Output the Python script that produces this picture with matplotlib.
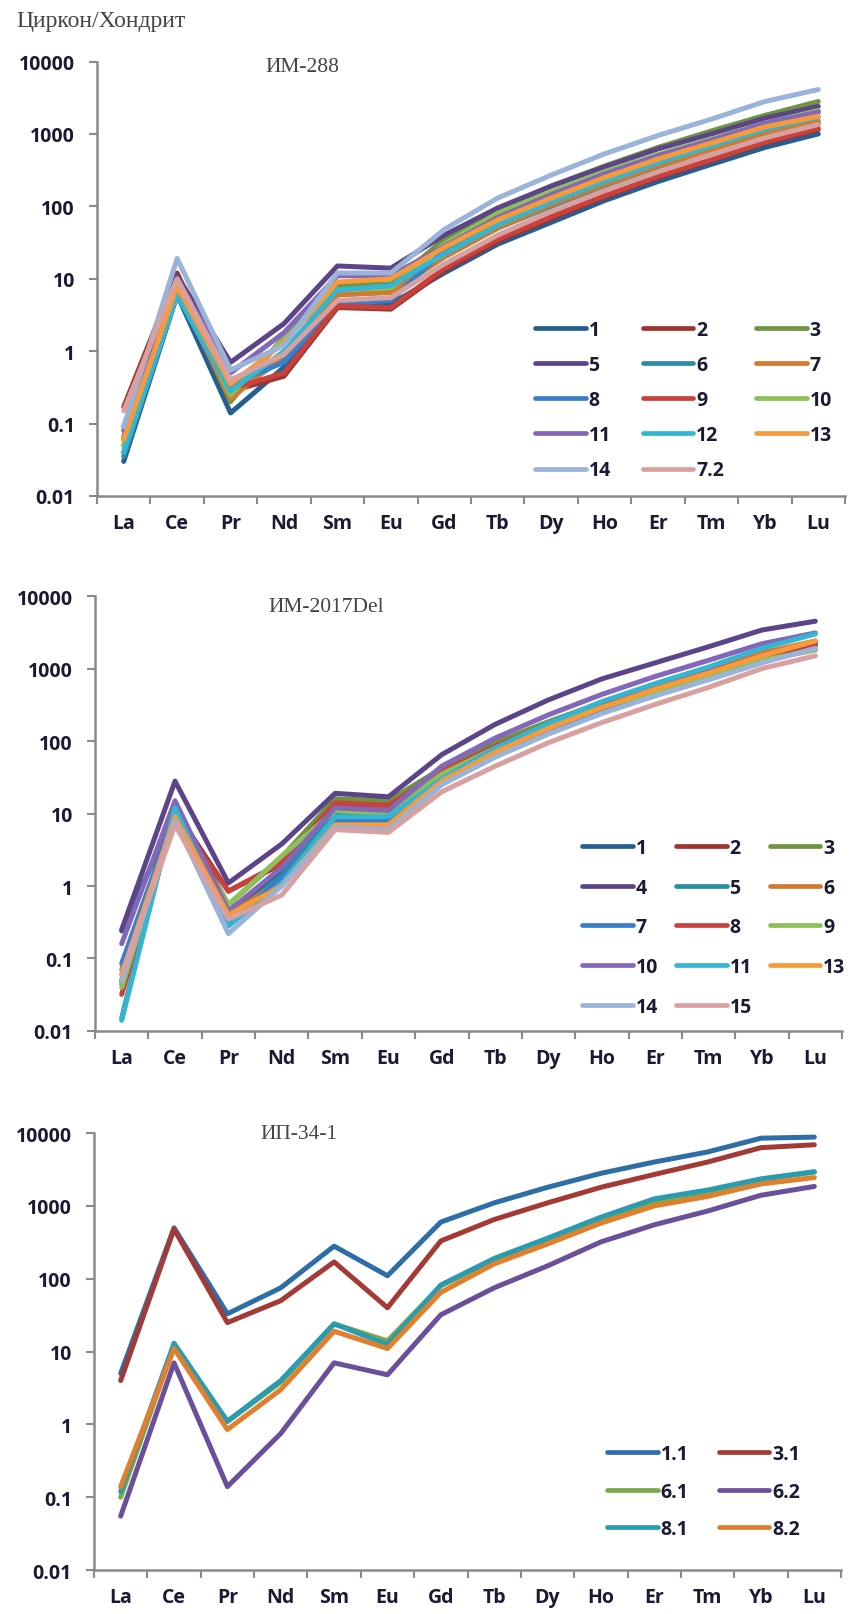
import matplotlib
matplotlib.use("Agg")
import matplotlib.pyplot as plt
import numpy as np

# REE spectra of zircon normalised to chondrite, three samples
elements = ["La", "Ce", "Pr", "Nd", "Sm", "Eu", "Gd", "Tb", "Dy", "Ho", "Er", "Tm", "Yb", "Lu"]
y_ticks = [0.01, 0.1, 1, 10, 100, 1000, 10000]
y_labels = ["0.01", "0.1", "1", "10", "100", "1000", "10000"]

# ---- ИМ-288
im288_names = ["1", "2", "3", "5", "6", "7", "8", "9", "10", "11", "12", "13", "14", "7.2"]
im288_colors = ["#255e91", "#9e3430", "#6f9340", "#5b4588", "#2a8fa5", "#d07a2e", "#3a7dc8",
                "#c9413c", "#8fc057", "#8367b8", "#34b5d2", "#f79a3c", "#9ab3d8", "#d9a0a0"]
im288_s1 = [0.03, 6, 0.14, 0.6, 4, 4.5, 12, 30, 60, 120, 220, 380, 650, 1000]
im288_s2 = [0.17, 12, 0.28, 0.45, 4, 3.8, 13, 33, 68, 135, 250, 430, 750, 1150]
im288_s3 = [0.05, 8, 0.2, 1.6, 8, 8.5, 35, 90, 190, 360, 650, 1100, 1800, 2800]
im288_s5 = [0.09, 11, 0.7, 2.4, 15, 14, 40, 95, 190, 350, 620, 1000, 1650, 2400]
im288_s6 = [0.035, 6, 0.25, 0.8, 6, 6.5, 20, 50, 100, 190, 350, 580, 950, 1400]
im288_s7 = [0.06, 7, 0.22, 0.9, 6, 6.5, 20, 50, 105, 200, 360, 600, 1000, 1500]
im288_s8 = [0.04, 6.5, 0.35, 0.7, 4.5, 5, 25, 65, 135, 260, 480, 800, 1350, 2050]
im288_s9 = [0.065, 9, 0.3, 0.5, 4.2, 4, 14, 35, 72, 140, 260, 440, 770, 1200]
im288_s10 = [0.05, 8, 0.25, 1.5, 7, 7.5, 30, 80, 160, 300, 520, 850, 1400, 2100]
im288_s11 = [0.08, 10, 0.5, 1.8, 11, 11, 28, 70, 145, 280, 500, 820, 1400, 2000]
im288_s12 = [0.04, 6, 0.28, 1.0, 7, 8, 22, 55, 115, 220, 400, 680, 1150, 1700]
im288_s13 = [0.06, 8, 0.35, 1.3, 9, 10, 27, 65, 130, 250, 450, 750, 1250, 1750]
im288_s14 = [0.09, 19, 0.55, 1.2, 12, 12, 48, 130, 270, 530, 950, 1600, 2800, 4100]
im288_s72 = [0.15, 10, 0.4, 0.9, 5, 5.5, 16, 40, 85, 165, 300, 520, 880, 1350]
im288_data = [im288_s1, im288_s2, im288_s3, im288_s5, im288_s6, im288_s7, im288_s8,
              im288_s9, im288_s10, im288_s11, im288_s12, im288_s13, im288_s14, im288_s72]

# ---- ИМ-2017Del
im2017_names = ["1", "2", "3", "4", "5", "6", "7", "8", "9", "10", "11", "13", "14", "15"]
im2017_colors = ["#255e91", "#9e3430", "#6f9340", "#5b4588", "#2a8fa5", "#d07a2e", "#3a7dc8",
                 "#c9413c", "#8fc057", "#8367b8", "#34b5d2", "#f79a3c", "#9ab3d8", "#d9a0a0"]
im2017_s1 = [0.24, 10, 0.4, 1.5, 10, 9, 35, 80, 160, 300, 520, 850, 1450, 2100]
im2017_s2 = [0.05, 11, 0.85, 2.0, 13, 13, 40, 90, 180, 330, 560, 900, 1500, 2200]
im2017_s3 = [0.045, 12, 0.55, 2.5, 16, 15, 42, 95, 185, 340, 580, 920, 1550, 2300]
im2017_s4 = [0.25, 28, 1.1, 3.8, 19, 17, 65, 170, 370, 720, 1200, 2000, 3400, 4500]
im2017_s5 = [0.015, 13, 0.35, 1.4, 10, 10, 33, 80, 165, 310, 540, 880, 1500, 2200]
im2017_s6 = [0.07, 9, 0.4, 1.2, 7, 7, 30, 75, 160, 310, 560, 950, 1650, 2400]
im2017_s7 = [0.085, 10, 0.3, 1.3, 8, 8, 28, 65, 130, 250, 440, 730, 1250, 1900]
im2017_s8 = [0.032, 9, 0.85, 2.1, 14, 13, 38, 85, 170, 320, 550, 900, 1500, 2200]
im2017_s9 = [0.04, 9, 0.55, 2.6, 11, 10, 35, 80, 160, 290, 480, 780, 1300, 1800]
im2017_s10 = [0.16, 15, 0.45, 1.8, 12, 11, 45, 110, 230, 440, 780, 1300, 2200, 3100]
im2017_s11 = [0.014, 12, 0.28, 1.1, 9, 9, 30, 80, 175, 350, 620, 1050, 1900, 3000]
im2017_s13 = [0.06, 9, 0.4, 1.0, 7, 7, 28, 70, 150, 290, 520, 870, 1500, 2400]
im2017_s14 = [0.05, 8, 0.22, 1.0, 6.5, 6, 25, 60, 125, 240, 420, 700, 1200, 1900]
im2017_s15 = [0.06, 7, 0.35, 0.75, 6, 5.5, 20, 45, 95, 180, 320, 550, 1000, 1500]
im2017_data = [im2017_s1, im2017_s2, im2017_s3, im2017_s4, im2017_s5, im2017_s6, im2017_s7,
               im2017_s8, im2017_s9, im2017_s10, im2017_s11, im2017_s13, im2017_s14, im2017_s15]

# ---- ИП-34-1
ip34_names = ["1.1", "3.1", "6.1", "6.2", "8.1", "8.2"]
ip34_colors = ["#2e6ea6", "#a33a35", "#7aab48", "#6a4f9a", "#2a9bb0", "#e07f2e"]
ip34_s11 = [5, 500, 33, 75, 280, 110, 600, 1100, 1800, 2800, 4000, 5500, 8500, 8800]
ip34_s31 = [4, 480, 25, 50, 170, 40, 330, 650, 1100, 1800, 2700, 4000, 6300, 6900]
ip34_s61 = [0.1, 12, 1.1, 3.8, 24, 14, 80, 180, 350, 650, 1150, 1550, 2300, 2900]
ip34_s62 = [0.055, 7, 0.14, 0.75, 7, 4.8, 32, 75, 150, 320, 550, 850, 1400, 1850]
ip34_s81 = [0.12, 13, 1.1, 4, 24, 12.5, 82, 190, 360, 700, 1250, 1650, 2350, 2950]
ip34_s82 = [0.14, 11, 0.85, 3, 19, 11, 65, 160, 300, 580, 1000, 1350, 2000, 2450]
ip34_data = [ip34_s11, ip34_s31, ip34_s61, ip34_s62, ip34_s81, ip34_s82]

TICK_FONT = dict(family="Open Sans", weight="bold", size=14)
TXT = "#1c1a33"
GRAY = "#8a8a8a"

fig = plt.figure(figsize=(8.5, 16.15), dpi=100)


def panel(rect, names, colors, data, title, title_xy, ncol, leg_xy, colsp, labsp):
    ax = fig.add_axes(rect)
    x = np.arange(len(elements))
    lines = []
    for name, col, vals in zip(names, colors, data):
        l, = ax.plot(x, vals, color=col, lw=3.6, solid_joinstyle="round",
                     solid_capstyle="round", label=name)
        lines.append(l)
    ax.set_yscale("log")
    ax.set_ylim(0.01, 10000)
    ax.set_xlim(-0.5, len(elements) - 0.5)
    ax.set_yticks(y_ticks)
    ax.set_yticklabels(y_labels)
    ax.yaxis.set_minor_locator(matplotlib.ticker.NullLocator())
    ax.set_xticks(x)
    ax.set_xticklabels(elements)
    ax.set_xticks(np.arange(-0.5, len(elements)), minor=True)
    for s in ["top", "right"]:
        ax.spines[s].set_visible(False)
    for s in ["left", "bottom"]:
        ax.spines[s].set_color(GRAY)
        ax.spines[s].set_linewidth(1.8)
    ax.tick_params(axis="y", which="major", direction="out", length=6, width=1.5,
                   color=GRAY, pad=10, labelcolor=TXT)
    ax.tick_params(axis="x", which="major", length=0, pad=12, labelcolor=TXT)
    ax.tick_params(axis="x", which="minor", direction="out", length=6, width=1.5, color=GRAY)
    for t in ax.get_xticklabels() + ax.get_yticklabels():
        t.set_fontproperties(matplotlib.font_manager.FontProperties(**TICK_FONT))
    ax.text(title_xy[0], title_xy[1], title, transform=ax.transAxes, ha="center", va="center",
            family="Liberation Serif", fontsize=15.5, color="#444444")
    # row-major order like the original legend
    n = len(lines)
    order = [i for c in range(ncol) for i in range(c, n, ncol)]
    leg = ax.legend([lines[i] for i in order], [names[i] for i in order], ncol=ncol,
                    loc="upper left", bbox_to_anchor=leg_xy, frameon=False, borderpad=0,
                    borderaxespad=0, handlelength=2.6, handletextpad=0.15,
                    columnspacing=colsp, labelspacing=labsp,
                    prop=matplotlib.font_manager.FontProperties(**TICK_FONT))
    for t in leg.get_texts():
        t.set_color(TXT)
    for h in leg.legend_handles:
        h.set_linewidth(3.4)
    return ax


panel([97 / 850, 0.6923, 748 / 850, 0.2690], im288_names, im288_colors, im288_data,
      "ИМ-288", (0.275, 0.988), 3, (0.5856, 0.4055), 1.65, 0.78)
panel([95 / 850, 0.3610, 747 / 850, 0.2693], im2017_names, im2017_colors, im2017_data,
      "ИМ-2017Del", (0.31, 0.977), 3, (0.652, 0.4437), 0.93, 1.01)
panel([94 / 850, 0.0272, 747 / 850, 0.2706], ip34_names, ip34_colors, ip34_data,
      "ИП-34-1", (0.275, 0.998), 2, (0.687, 0.288), 1.55, 0.9)

fig.text(16 / 850, 1 - 22 / 1615, "Циркон/Хондрит", ha="left", va="center",
         family="Liberation Serif", fontsize=17, color="#444444")

fig.savefig("out.png", dpi=100)
